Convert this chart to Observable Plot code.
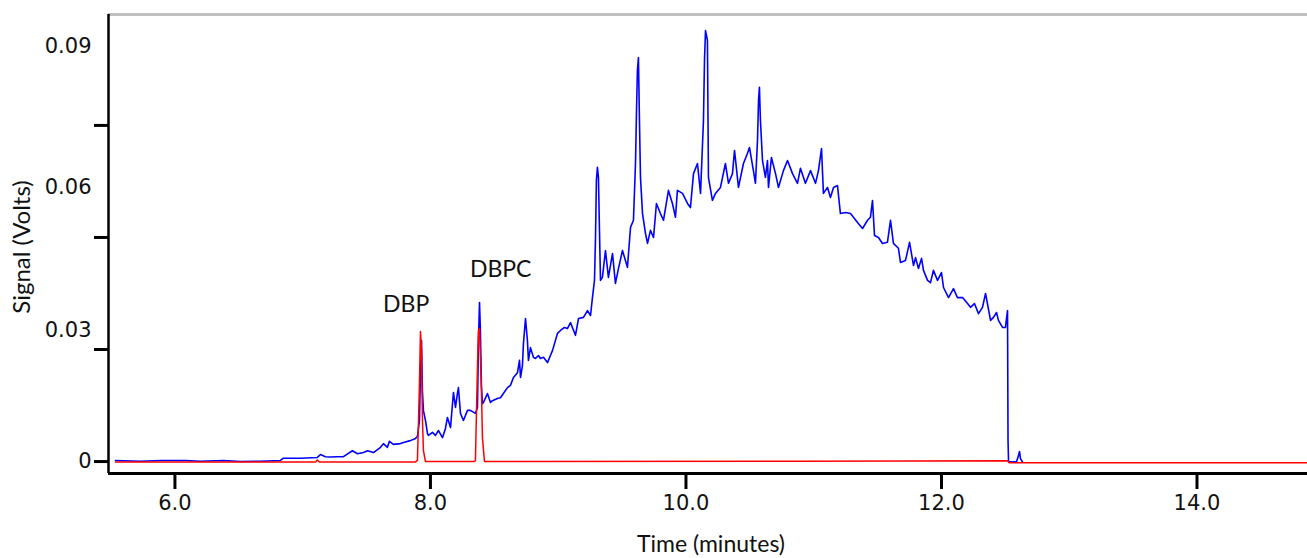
<!DOCTYPE html>
<html>
<head>
<meta charset="utf-8">
<script src="https://cdn.jsdelivr.net/npm/d3@7"></script>
<script src="https://cdn.jsdelivr.net/npm/@observablehq/plot@0.6"></script>
<style>
  html, body { margin: 0; padding: 0; background: #fff; }
  #chart svg { display: block; }
</style>
</head>
<body>
<div id="chart"></div>
<script>
// ---- data (time in minutes, signal in volts) ----
const blueTrace = [
  [5.534,0.0003],[5.730,0.0001],[5.887,0.0003],[6.082,0.0003],[6.200,0.0001],[6.380,0.0003],
  [6.513,0.0000],[6.669,0.0001],[6.826,0.0003],[6.849,0.0009],[6.982,0.0009],[7.115,0.0011],
  [7.139,0.0019],[7.178,0.0013],[7.217,0.0012],[7.272,0.0013],[7.319,0.0013],[7.389,0.0029],
  [7.429,0.0021],[7.476,0.0024],[7.507,0.0029],[7.554,0.0024],[7.609,0.0038],[7.632,0.0048],
  [7.663,0.0038],[7.679,0.0054],[7.710,0.0046],[7.765,0.0048],[7.789,0.0051],[7.843,0.0056],
  [7.883,0.0062],[7.898,0.0067],[7.914,0.0110],[7.922,0.0244],[7.930,0.0324],[7.937,0.0190],
  [7.945,0.0137],[7.961,0.0110],[7.977,0.0075],[7.984,0.0070],[8.016,0.0078],[8.039,0.0070],
  [8.063,0.0083],[8.094,0.0064],[8.117,0.0088],[8.133,0.0118],[8.157,0.0091],[8.180,0.0185],
  [8.196,0.0145],[8.211,0.0182],[8.219,0.0198],[8.235,0.0129],[8.258,0.0110],[8.290,0.0137],
  [8.313,0.0137],[8.352,0.0129],[8.368,0.0145],[8.376,0.0324],[8.384,0.0426],[8.391,0.0351],
  [8.399,0.0204],[8.407,0.0155],[8.415,0.0158],[8.446,0.0182],[8.470,0.0158],[8.485,0.0163],
  [8.524,0.0169],[8.548,0.0171],[8.571,0.0182],[8.603,0.0198],[8.626,0.0204],[8.650,0.0225],
  [8.681,0.0238],[8.697,0.0271],[8.705,0.0225],[8.720,0.0257],[8.728,0.0316],[8.744,0.0383],
  [8.759,0.0324],[8.767,0.0271],[8.783,0.0305],[8.806,0.0279],[8.822,0.0276],[8.845,0.0284],
  [8.861,0.0276],[8.885,0.0279],[8.916,0.0265],[8.939,0.0284],[8.955,0.0297],[8.994,0.0343],
  [9.018,0.0351],[9.049,0.0359],[9.072,0.0356],[9.096,0.0372],[9.135,0.0338],[9.159,0.0383],
  [9.198,0.0386],[9.229,0.0404],[9.253,0.0391],[9.268,0.0439],[9.284,0.0485],[9.292,0.0600],
  [9.299,0.0753],[9.307,0.0788],[9.315,0.0761],[9.323,0.0619],[9.331,0.0485],[9.346,0.0493],
  [9.370,0.0565],[9.393,0.0493],[9.425,0.0557],[9.448,0.0477],[9.472,0.0517],[9.503,0.0565],
  [9.542,0.0520],[9.566,0.0627],[9.589,0.0646],[9.605,0.0798],[9.613,0.0940],[9.620,0.1047],
  [9.628,0.1082],[9.636,0.0913],[9.644,0.0761],[9.660,0.0664],[9.683,0.0611],[9.699,0.0584],
  [9.722,0.0619],[9.746,0.0600],[9.769,0.0691],[9.800,0.0664],[9.824,0.0646],[9.863,0.0726],
  [9.894,0.0691],[9.918,0.0654],[9.933,0.0726],[9.973,0.0718],[10.012,0.0691],[10.035,0.0680],
  [10.059,0.0771],[10.090,0.0798],[10.114,0.0718],[10.137,0.0913],[10.145,0.1074],[10.153,0.1154],
  [10.168,0.1128],[10.176,0.0761],[10.207,0.0699],[10.231,0.0718],[10.270,0.0734],[10.309,0.0798],
  [10.333,0.0745],[10.364,0.0771],[10.380,0.0833],[10.411,0.0734],[10.450,0.0798],[10.481,0.0825],
  [10.497,0.0841],[10.528,0.0779],[10.544,0.0745],[10.560,0.0860],[10.568,0.0967],[10.575,0.1002],
  [10.583,0.0913],[10.599,0.0806],[10.622,0.0761],[10.638,0.0806],[10.646,0.0734],[10.669,0.0814],
  [10.701,0.0771],[10.724,0.0734],[10.763,0.0779],[10.795,0.0806],[10.834,0.0771],[10.873,0.0745],
  [10.896,0.0785],[10.935,0.0745],[10.975,0.0779],[11.014,0.0745],[11.037,0.0779],[11.061,0.0838],
  [11.076,0.0718],[11.108,0.0734],[11.131,0.0707],[11.155,0.0734],[11.186,0.0739],[11.209,0.0664],
  [11.249,0.0667],[11.288,0.0664],[11.343,0.0640],[11.382,0.0624],[11.421,0.0646],[11.444,0.0654],
  [11.460,0.0699],[11.476,0.0605],[11.507,0.0600],[11.538,0.0584],[11.577,0.0587],[11.601,0.0646],
  [11.624,0.0584],[11.663,0.0571],[11.679,0.0533],[11.718,0.0538],[11.750,0.0587],[11.781,0.0525],
  [11.797,0.0546],[11.820,0.0517],[11.844,0.0544],[11.859,0.0512],[11.891,0.0485],[11.914,0.0479],
  [11.937,0.0512],[11.969,0.0485],[12.000,0.0506],[12.016,0.0466],[12.055,0.0439],[12.094,0.0463],
  [12.125,0.0439],[12.165,0.0439],[12.204,0.0423],[12.227,0.0413],[12.258,0.0423],[12.290,0.0396],
  [12.321,0.0413],[12.345,0.0450],[12.384,0.0378],[12.407,0.0386],[12.431,0.0399],[12.446,0.0378],
  [12.478,0.0359],[12.501,0.0359],[12.509,0.0383],[12.517,0.0404],[12.521,0.0056],[12.525,0.0000],
  [12.556,-0.0001],[12.587,-0.0001],[12.603,0.0016],[12.611,0.0027],[12.618,0.0008],[12.634,-0.0001]
];
const redTrace = [
  [5.534,-0.0001],[7.100,-0.0001],[7.115,0.0004],[7.130,-0.0001],[7.883,-0.0001],[7.898,0.0003],
  [7.906,0.0102],[7.914,0.0209],[7.922,0.0348],[7.930,0.0297],[7.937,0.0118],[7.945,0.0029],
  [7.961,0.0000],[8.344,0.0000],[8.352,0.0003],[8.368,0.0252],[8.376,0.0351],[8.384,0.0356],
  [8.399,0.0190],[8.407,0.0064],[8.423,0.0000],[10.900,0.0001],[12.517,0.0002],[12.530,-0.0003],
  [14.865,-0.0003]
];
const xDomain = [5.48, 14.865];
const yDomain = [-0.0032, 0.1197];
const xTicks = [6, 8, 10, 12, 14];
const yTicks = [0, 0.03, 0.06, 0.09];
const yTickLabels = ["0", "0.03", "0.06", "0.09"];
const xTitle = "Time (minutes)";
const yTitle = "Signal (Volts)";
const peakNames = ["DBP", "DBPC"];
const peakLabelTime = [7.81, 8.55];
const peakLabelSignal = [0.0421, 0.0514];

// ---- tables ----
const blue = blueTrace.map(([t, v]) => ({t, v}));
const red = redTrace.map(([t, v]) => ({t, v}));
const peaks = peakNames.map((name, i) => ({name, t: peakLabelTime[i], v: peakLabelSignal[i]}));

// label vertical shifts (the reference draws the y labels above their ticks)
const yLabelShift = [0, -19, -50, -79];
const tickFont = "DejaVu Sans, sans-serif";
const titleFont = "Lato, 'Open Sans', sans-serif";

const chart = Plot.plot({
  width: 1307,
  height: 558,
  marginLeft: 108,
  marginRight: 0,
  marginTop: 14,
  marginBottom: 85,
  style: {background: "#fff", color: "#111"},
  x: {domain: xDomain, label: null},
  y: {domain: yDomain, label: null},
  marks: [
    Plot.ruleY([yDomain[1]], {stroke: "#c0c0c0", strokeWidth: 3}),
    Plot.line(blue, {x: "t", y: "v", stroke: "#0000ff", strokeWidth: 1.6}),
    Plot.line(red, {x: "t", y: "v", stroke: "#ff0000", strokeWidth: 1.5}),
    Plot.ruleX([xDomain[0]], {stroke: "#000", strokeWidth: 2.5}),
    Plot.ruleY([yDomain[0]], {stroke: "#000", strokeWidth: 3}),
    Plot.axisX({ticks: xTicks, tickSize: 16, tickPadding: 6, strokeWidth: 3, stroke: "#000",
      tickFormat: d3.format(".1f"), fontSize: 21, fontFamily: tickFont, fill: "#111", label: null}),
    Plot.axisY({ticks: yTicks, tickSize: 14, strokeWidth: 3, stroke: "#000",
      tickFormat: () => "", label: null}),
    ...yTicks.map((t, i) => Plot.axisY([t], {tickSize: 0, tickPadding: 17, dy: yLabelShift[i],
      tickFormat: () => yTickLabels[i], fontSize: 21, fontFamily: tickFont, fill: "#111", label: null})),
    Plot.text([xTitle], {frameAnchor: "bottom", dx: 3, dy: 71, lineAnchor: "middle", textAnchor: "middle",
      fontSize: 23, fontFamily: titleFont, fill: "#111"}),
    Plot.text([yTitle], {frameAnchor: "left", dx: -86, dy: 3, rotate: -90, textAnchor: "middle", lineAnchor: "middle",
      fontSize: 24, fontFamily: titleFont, fill: "#111"}),
    Plot.text(peaks, {x: "t", y: "v", text: "name", fontSize: 23, fontFamily: titleFont, fill: "#111"})
  ]
});
document.getElementById("chart").append(chart);
</script>
</body>
</html>
